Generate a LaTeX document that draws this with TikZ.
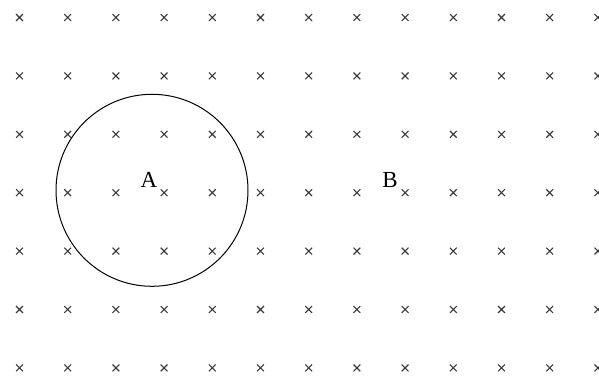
\documentclass[tikz,border=0pt]{standalone}
\usepackage{fontspec}
\setmainfont{Liberation Serif}
\begin{document}
\begin{tikzpicture}[x=1pt,y=-1pt,
  crossmark/.style={draw=gray!45!black,line width=1.1pt},
  label/.style={inner sep=0pt,font=\fontsize{23}{27}\selectfont}]
\useasboundingbox (0,0) rectangle (599,378);
\foreach \i in {0,...,12}{
  \foreach \j in {0,...,6}{
    \pgfmathsetmacro{\cx}{19.5+48.2*\i}
    \pgfmathsetmacro{\cy}{17.5+58.4*\j}
    \draw[crossmark] (\cx-3.4,\cy-3.4) -- (\cx+3.4,\cy+3.4)
                     (\cx-3.4,\cy+3.4) -- (\cx+3.4,\cy-3.4);
  }
}
\draw[line width=1pt] (152,190.3) circle[radius=96];
\node[label] (A) at (149,179.5) {A};
\node[label] (B) at (390,179.5) {B};
\end{tikzpicture}
\end{document}
